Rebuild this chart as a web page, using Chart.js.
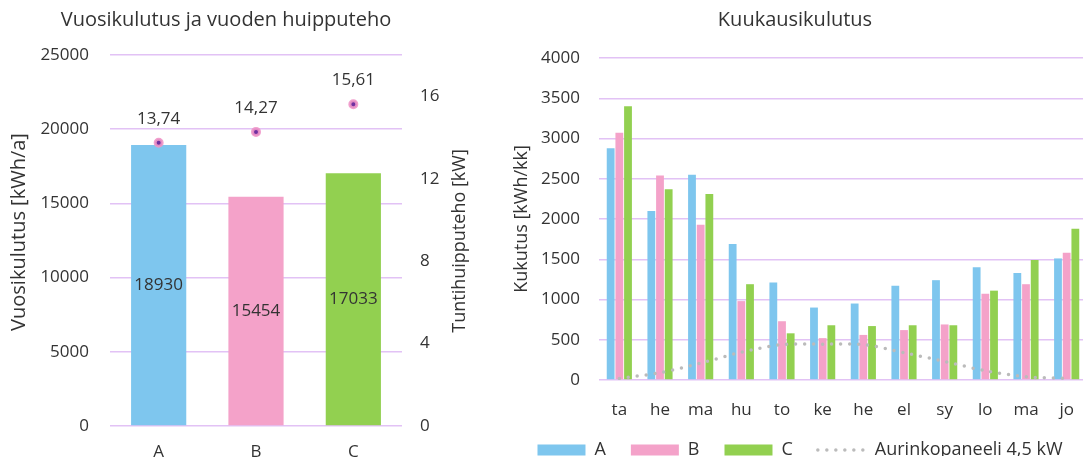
<!DOCTYPE html>
<html><head><meta charset="utf-8">
<script src="https://cdn.jsdelivr.net/npm/chart.js@4"></script>
<style>
html,body{margin:0;padding:0;background:#fff;overflow:hidden;width:1083px;height:460px;position:relative;}
#w1{position:absolute;left:0;top:0;width:480px;height:460px;}
#w2{position:absolute;left:500px;top:0;width:600px;height:460px;}
</style></head><body>
<div id="w1"><canvas id="c1" width="480" height="460"></canvas></div>
<div id="w2"><canvas id="c2" width="600" height="460"></canvas></div>
<script>
// ---- data ----
const annualCategories = ['A', 'B', 'C'];
const annualConsumption = [18930, 15454, 17033];
const peakPower = [13.74, 14.27, 15.61];
const monthLabels = ['ta', 'he', 'ma', 'hu', 'to', 'ke', 'he', 'el', 'sy', 'lo', 'ma', 'jo'];
const monthlyA = [2880, 2100, 2550, 1690, 1210, 900, 950, 1170, 1240, 1400, 1330, 1510];
const monthlyB = [3070, 2540, 1930, 980, 730, 520, 560, 620, 690, 1070, 1190, 1580];
const monthlyC = [3400, 2370, 2310, 1190, 580, 680, 670, 680, 680, 1110, 1490, 1880];
const solarPanel = [20, 90, 210, 345, 440, 445, 440, 340, 230, 115, 40, 20];
const seriesNames = ['A', 'B', 'C', 'Aurinkopaneeli 4,5 kW'];
const leftTitle = 'Vuosikulutus ja vuoden huipputeho';
const rightTitle = 'Kuukausikulutus';
const leftAxisTitle = 'Vuosikulutus [kWh/a]';
const rightAxisTitle = 'Tuntihuipputeho [kW]';
const monthAxisTitle = 'Kukutus [kWh/kk]';

// ---- styles ----
const FONT = "'Open Sans', sans-serif";
const TXT = '#333333';
const GRID = '#E2C2F5';
const BLUE = '#7EC6EE', PINK = '#F4A2C9', GREEN = '#92D050', SOLAR = '#BBBBBB';
Chart.defaults.font.family = FONT;
Chart.defaults.font.size = 17;
Chart.defaults.color = TXT;
Chart.defaults.animation = false;

const fmt = v => v.toFixed(2).replace('.', ',');
const plainTick = v => String(v);

function vText(ctx, text, x, y, size) {
  ctx.save();
  ctx.fillStyle = TXT;
  ctx.font = size + 'px ' + FONT;
  ctx.textAlign = 'center';
  ctx.textBaseline = 'middle';
  ctx.translate(x, y);
  ctx.rotate(-Math.PI / 2);
  ctx.fillText(text, 0, 0);
  ctx.restore();
}
function hTitle(ctx, text, x, y) {
  ctx.save();
  ctx.fillStyle = TXT;
  ctx.font = '20px ' + FONT;
  ctx.textAlign = 'center';
  ctx.textBaseline = 'alphabetic';
  ctx.fillText(text, x, y);
  ctx.restore();
}

const leftPlugin = {
  id: 'leftExtras',
  afterDatasetsDraw(chart) {
    const ctx = chart.ctx;
    ctx.save();
    ctx.fillStyle = TXT;
    ctx.font = '17px ' + FONT;
    ctx.textAlign = 'center';
    ctx.textBaseline = 'middle';
    chart.getDatasetMeta(1).data.forEach((el, i) => {
      ctx.fillText(String(annualConsumption[i]), el.x, (el.y + el.base) / 2);
    });
    chart.getDatasetMeta(0).data.forEach((el, i) => {
      ctx.fillText(fmt(peakPower[i]), el.x, el.y - 24);
    });
    ctx.restore();
  },
  afterDraw(chart) {
    const ctx = chart.ctx;
    hTitle(ctx, leftTitle, 226, 26);
    vText(ctx, leftAxisTitle, 19, 232, 20);
    vText(ctx, rightAxisTitle, 460, 241, 18);
  }
};

new Chart(document.getElementById('c1'), {
  data: {
    labels: annualCategories,
    datasets: [
      {
        type: 'line', label: 'Huipputeho', data: peakPower, yAxisID: 'y2',
        showLine: false, pointRadius: 3.5, pointBorderWidth: 3,
        pointBackgroundColor: '#7030A0', pointBorderColor: 'rgba(240,150,200,0.9)', order: 0
      },
      {
        type: 'bar', label: 'Vuosikulutus', data: annualConsumption, yAxisID: 'y',
        backgroundColor: [BLUE, PINK, GREEN], categoryPercentage: 1, barPercentage: 0.567, order: 1
      }
    ]
  },
  options: {
    responsive: false,
    layout: { padding: { top: 55, left: 0, right: 0, bottom: 0 } },
    plugins: { legend: { display: false }, tooltip: { enabled: false } },
    scales: {
      x: {
        grid: { display: false, drawTicks: false }, border: { display: false },
        ticks: { padding: 16 },
        afterFit(s) { s.height = 34; s.paddingLeft = 0; s.paddingRight = 0; s._computeLabelArea = () => undefined; }
      },
      y: {
        position: 'left', min: 0, max: 25000,
        ticks: { stepSize: 5000, padding: 21, callback: plainTick },
        grid: { color: GRID, lineWidth: 1.5, drawTicks: false }, border: { display: false },
        afterFit(s) { s.width = 110; s.paddingTop = 0; s.paddingBottom = 0; }
      },
      y2: {
        position: 'right', min: 0, max: 18,
        ticks: { stepSize: 4, padding: 18, callback: plainTick },
        afterBuildTicks(s) { s.ticks = s.ticks.filter(t => t.value % 4 === 0); },
        grid: { display: false, drawTicks: false }, border: { display: false },
        afterFit(s) { s.width = 78; s.paddingTop = 0; s.paddingBottom = 0; }
      }
    }
  },
  plugins: [leftPlugin]
});

const rightPlugin = {
  id: 'rightExtras',
  afterDraw(chart) {
    const ctx = chart.ctx;
    hTitle(ctx, rightTitle, 295, 26);
    vText(ctx, monthAxisTitle, 22, 219, 18);
  }
};

const barDs = (label, data, color) => ({
  type: 'bar', label, data, backgroundColor: color,
  categoryPercentage: 0.64, barPercentage: 0.9, order: 1
});

new Chart(document.getElementById('c2'), {
  data: {
    labels: monthLabels,
    datasets: [
      barDs(seriesNames[0], monthlyA, BLUE),
      barDs(seriesNames[1], monthlyB, PINK),
      barDs(seriesNames[2], monthlyC, GREEN),
      {
        type: 'line', label: seriesNames[3], data: solarPanel,
        borderColor: SOLAR, borderWidth: 3.5, borderDash: [0, 9], borderCapStyle: 'round',
        pointRadius: 0, tension: 0.3, fill: false, order: 0
      }
    ]
  },
  options: {
    responsive: false,
    layout: { padding: { top: 58, left: 0, right: 0, bottom: 4 } },
    plugins: {
      tooltip: { enabled: false },
      legend: {
        position: 'bottom', maxHeight: 40,
        labels: {
          usePointStyle: true, pointStyleWidth: 48, boxHeight: 11, padding: 25,
          color: TXT, font: { size: 18 },
          generateLabels(chart) {
            return chart.data.datasets.map((ds, i) => {
              const isLine = ds.type === 'line';
              return {
                text: ds.label, datasetIndex: i, hidden: false, fontColor: TXT,
                fillStyle: isLine ? 'rgba(0,0,0,0)' : ds.backgroundColor,
                strokeStyle: isLine ? ds.borderColor : ds.backgroundColor,
                lineWidth: isLine ? 3.5 : 0,
                lineDash: isLine ? [0, 9] : [],
                lineCap: 'round',
                pointStyle: isLine ? 'line' : 'rect'
              };
            });
          }
        }
      }
    },
    scales: {
      x: {
        grid: { display: false, drawTicks: false }, border: { display: false },
        ticks: { padding: 20 },
        afterFit(s) { s.height = 36; s.paddingLeft = 0; s.paddingRight = 0; s._computeLabelArea = () => undefined; }
      },
      y: {
        min: 0, max: 4000,
        ticks: { stepSize: 500, padding: 19, callback: plainTick },
        grid: { color: GRID, lineWidth: 1.5, drawTicks: false }, border: { display: false },
        afterFit(s) { s.width = 99; s.paddingTop = 0; s.paddingBottom = 0; }
      },
      yPad: {
        position: 'right', display: true,
        ticks: { display: false }, grid: { display: false, drawTicks: false }, border: { display: false },
        afterFit(s) { s.width = 13; s.paddingTop = 0; s.paddingBottom = 0; }
      }
    }
  },
  plugins: [rightPlugin]
});
</script>
</body></html>
